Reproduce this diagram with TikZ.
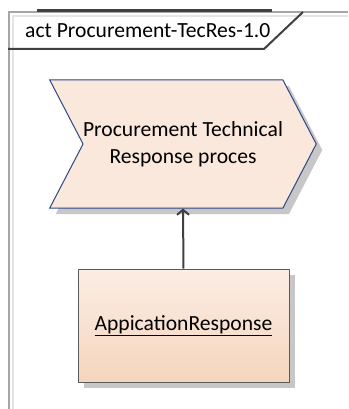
\documentclass[tikz,border=0pt]{standalone}
\usepackage{fontspec}
\setmainfont{Carlito}
\usetikzlibrary{shapes.symbols,shadows,arrows.meta}
\definecolor{procfill}{HTML}{FBE8DC}
\definecolor{procline}{HTML}{2E4686}
\definecolor{resptop}{HTML}{FBEDE4}
\definecolor{respbot}{HTML}{F6D5BD}
\definecolor{respline}{HTML}{5A5A5A}
\tikzset{
  eashadow/.style={drop shadow={shadow xshift=6pt,shadow yshift=-6pt,fill=black!22,opacity=1}},
  actstep/.style={signal,signal from=west,signal to=east,signal pointer angle=125,
    fill=procfill,draw=procline,line width=1pt,minimum width=258pt,minimum height=128pt,
    inner sep=0pt,align=center,eashadow},
  objbox/.style={rectangle,draw=respline,line width=1pt,top color=resptop,bottom color=respbot,
    minimum width=211pt,minimum height=113pt,eashadow},
  flow/.style={line width=2pt,color=black!75,-{Straight Barb[length=5pt,width=12pt]}}
}
\begin{document}
\begin{tikzpicture}[x=1pt,y=-1pt,font=\fontsize{21.6}{27}\selectfont]
		\useasboundingbox (0,0) rectangle (348,409);
		\fill[color=white] (0,0) rectangle (348,409);
		% frame
		\draw[color=black!35,line width=2pt] (9,409) -- (9,12) -- (348,12);
		\draw[color=black!10,line width=1.5pt] (13,409) -- (13,16) -- (348,16);
		\draw[color=black!75,line width=3pt] (37,11) -- (272,11);
		\draw[color=black!75,line width=2pt] (8,49) -- (264,49) -- (303,12);
		\node[anchor=base west,inner sep=0pt] (title) at (25,38) {act Procurement-TecRes-1.0};
		% process and object
		\node[actstep] (proc) at (183,144) {Procurement Technical\\Response proces};
		\node[objbox] (resp) at (183.5,325.5) {\underline{AppicationResponse}};
		\draw[flow] (resp.north) -- (proc.south);
	\end{tikzpicture}
\end{document}
